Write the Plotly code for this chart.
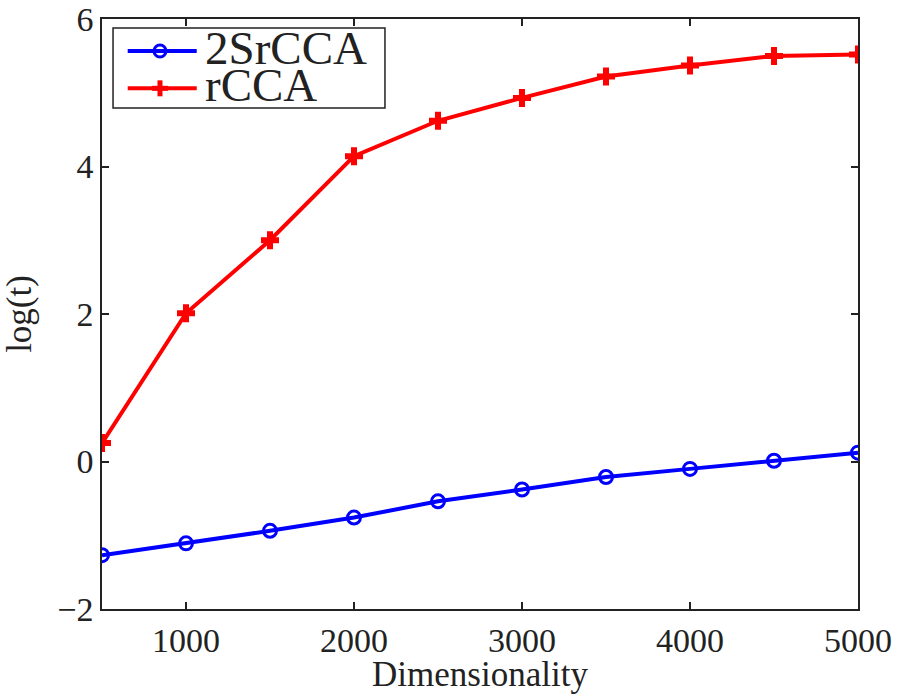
import plotly.graph_objects as go

dims = [500, 1000, 1500, 2000, 2500, 3000, 3500, 4000, 4500, 5000]
srcca = [-1.27, -1.11, -0.94, -0.76, -0.54, -0.38, -0.21, -0.10, 0.01, 0.12]
rcca = [0.25, 2.01, 3.00, 4.14, 4.62, 4.93, 5.22, 5.37, 5.50, 5.52]
series_names = ["2SrCCA", "rCCA"]
x_ticks = [1000, 2000, 3000, 4000, 5000]
y_ticks = [-2, 0, 2, 4, 6]
y_ticklabels = ["\u22122", "0", "2", "4", "6"]

font_family = "'Liberation Serif', 'Times New Roman', 'DejaVu Serif', serif"
ink = "#222222"
blue = "#0000ff"
red = "#ff0000"

fig = go.Figure()
fig.add_trace(go.Scatter(
    x=dims, y=srcca, name=series_names[0], mode="lines+markers", showlegend=False,
    line=dict(color=blue, width=4),
    marker=dict(symbol="circle-open", size=13, color=blue, line=dict(width=3, color=blue)),
))
fig.add_trace(go.Scatter(
    x=dims, y=rcca, name=series_names[1], mode="lines+markers", showlegend=False,
    line=dict(color=red, width=4),
    marker=dict(symbol="cross", size=15, color=red, line=dict(width=0)),
))

axis_common = dict(
    showgrid=False, zeroline=False, showline=True, linecolor=ink, linewidth=1.5,
    mirror="ticks", ticks="inside", ticklen=7, tickwidth=1.5, tickcolor=ink,
    tickfont=dict(family=font_family, size=34, color=ink),
    automargin=False, ticklabeloverflow="allow",
)

# ---- legend box (built in paper coordinates, like MATLAB's boxed legend) ----
box_x0, box_x1, box_y0, box_y1 = 0.0146, 0.3743, 0.8492, 0.9847
row_y = [0.9458, 0.8825]
sample_x0, sample_x1, marker_x, text_x = 0.0340, 0.1253, 0.0767, 0.1336

shapes = [dict(type="rect", xref="paper", yref="paper", x0=box_x0, x1=box_x1, y0=box_y0, y1=box_y1,
               line=dict(color=ink, width=1.5), fillcolor="white", layer="above")]
annotations = []
colors = [blue, red]
for i, (name, col) in enumerate(zip(series_names, colors)):
    shapes.append(dict(type="line", xref="paper", yref="paper", x0=sample_x0, x1=sample_x1,
                       y0=row_y[i], y1=row_y[i], line=dict(color=col, width=4), layer="above"))
    annotations.append(dict(xref="paper", yref="paper", x=text_x, y=row_y[i], xanchor="left", yanchor="middle",
                            text=name, showarrow=False, yshift=3, height=36, valign="middle",
                            font=dict(family=font_family, size=47, color=ink)))
# blue circle marker
shapes.append(dict(type="circle", xref="paper", yref="paper", xsizemode="pixel", ysizemode="pixel",
                   xanchor=marker_x, yanchor=row_y[0], x0=-6, x1=6, y0=-6, y1=6,
                   line=dict(color=blue, width=3), fillcolor="rgba(0,0,0,0)", layer="above"))
# red plus marker
shapes.append(dict(type="line", xref="paper", yref="paper", xsizemode="pixel", ysizemode="pixel",
                   xanchor=marker_x, yanchor=row_y[1], x0=0, x1=0, y0=-8, y1=8,
                   line=dict(color=red, width=5), layer="above"))
shapes.append(dict(type="line", xref="paper", yref="paper", xsizemode="pixel", ysizemode="pixel",
                   xanchor=marker_x, yanchor=row_y[1], x0=-8, x1=8, y0=0, y1=0,
                   line=dict(color=red, width=5), layer="above"))

fig.update_layout(
    width=897, height=694,
    margin=dict(l=102, r=39, t=19, b=85),
    paper_bgcolor="white", plot_bgcolor="white",
    font=dict(family=font_family, color=ink),
    xaxis=dict(range=[500, 5000], tickvals=x_ticks, ticktext=[str(v) for v in x_ticks],
               title=dict(text="Dimensionality", font=dict(family=font_family, size=35, color=ink), standoff=0),
               **axis_common),
    yaxis=dict(range=[-2, 6], tickvals=y_ticks, ticktext=y_ticklabels,
               title=dict(text="log(t)", font=dict(family=font_family, size=35, color=ink), standoff=16),
               **axis_common),
    shapes=shapes,
    annotations=annotations,
    showlegend=False,
)

# remove the page's default 8px body margin so the figure fills the window exactly
fig.write_html("out.html", config={"displayModeBar": False},
               post_script="document.body.style.margin='0';")
